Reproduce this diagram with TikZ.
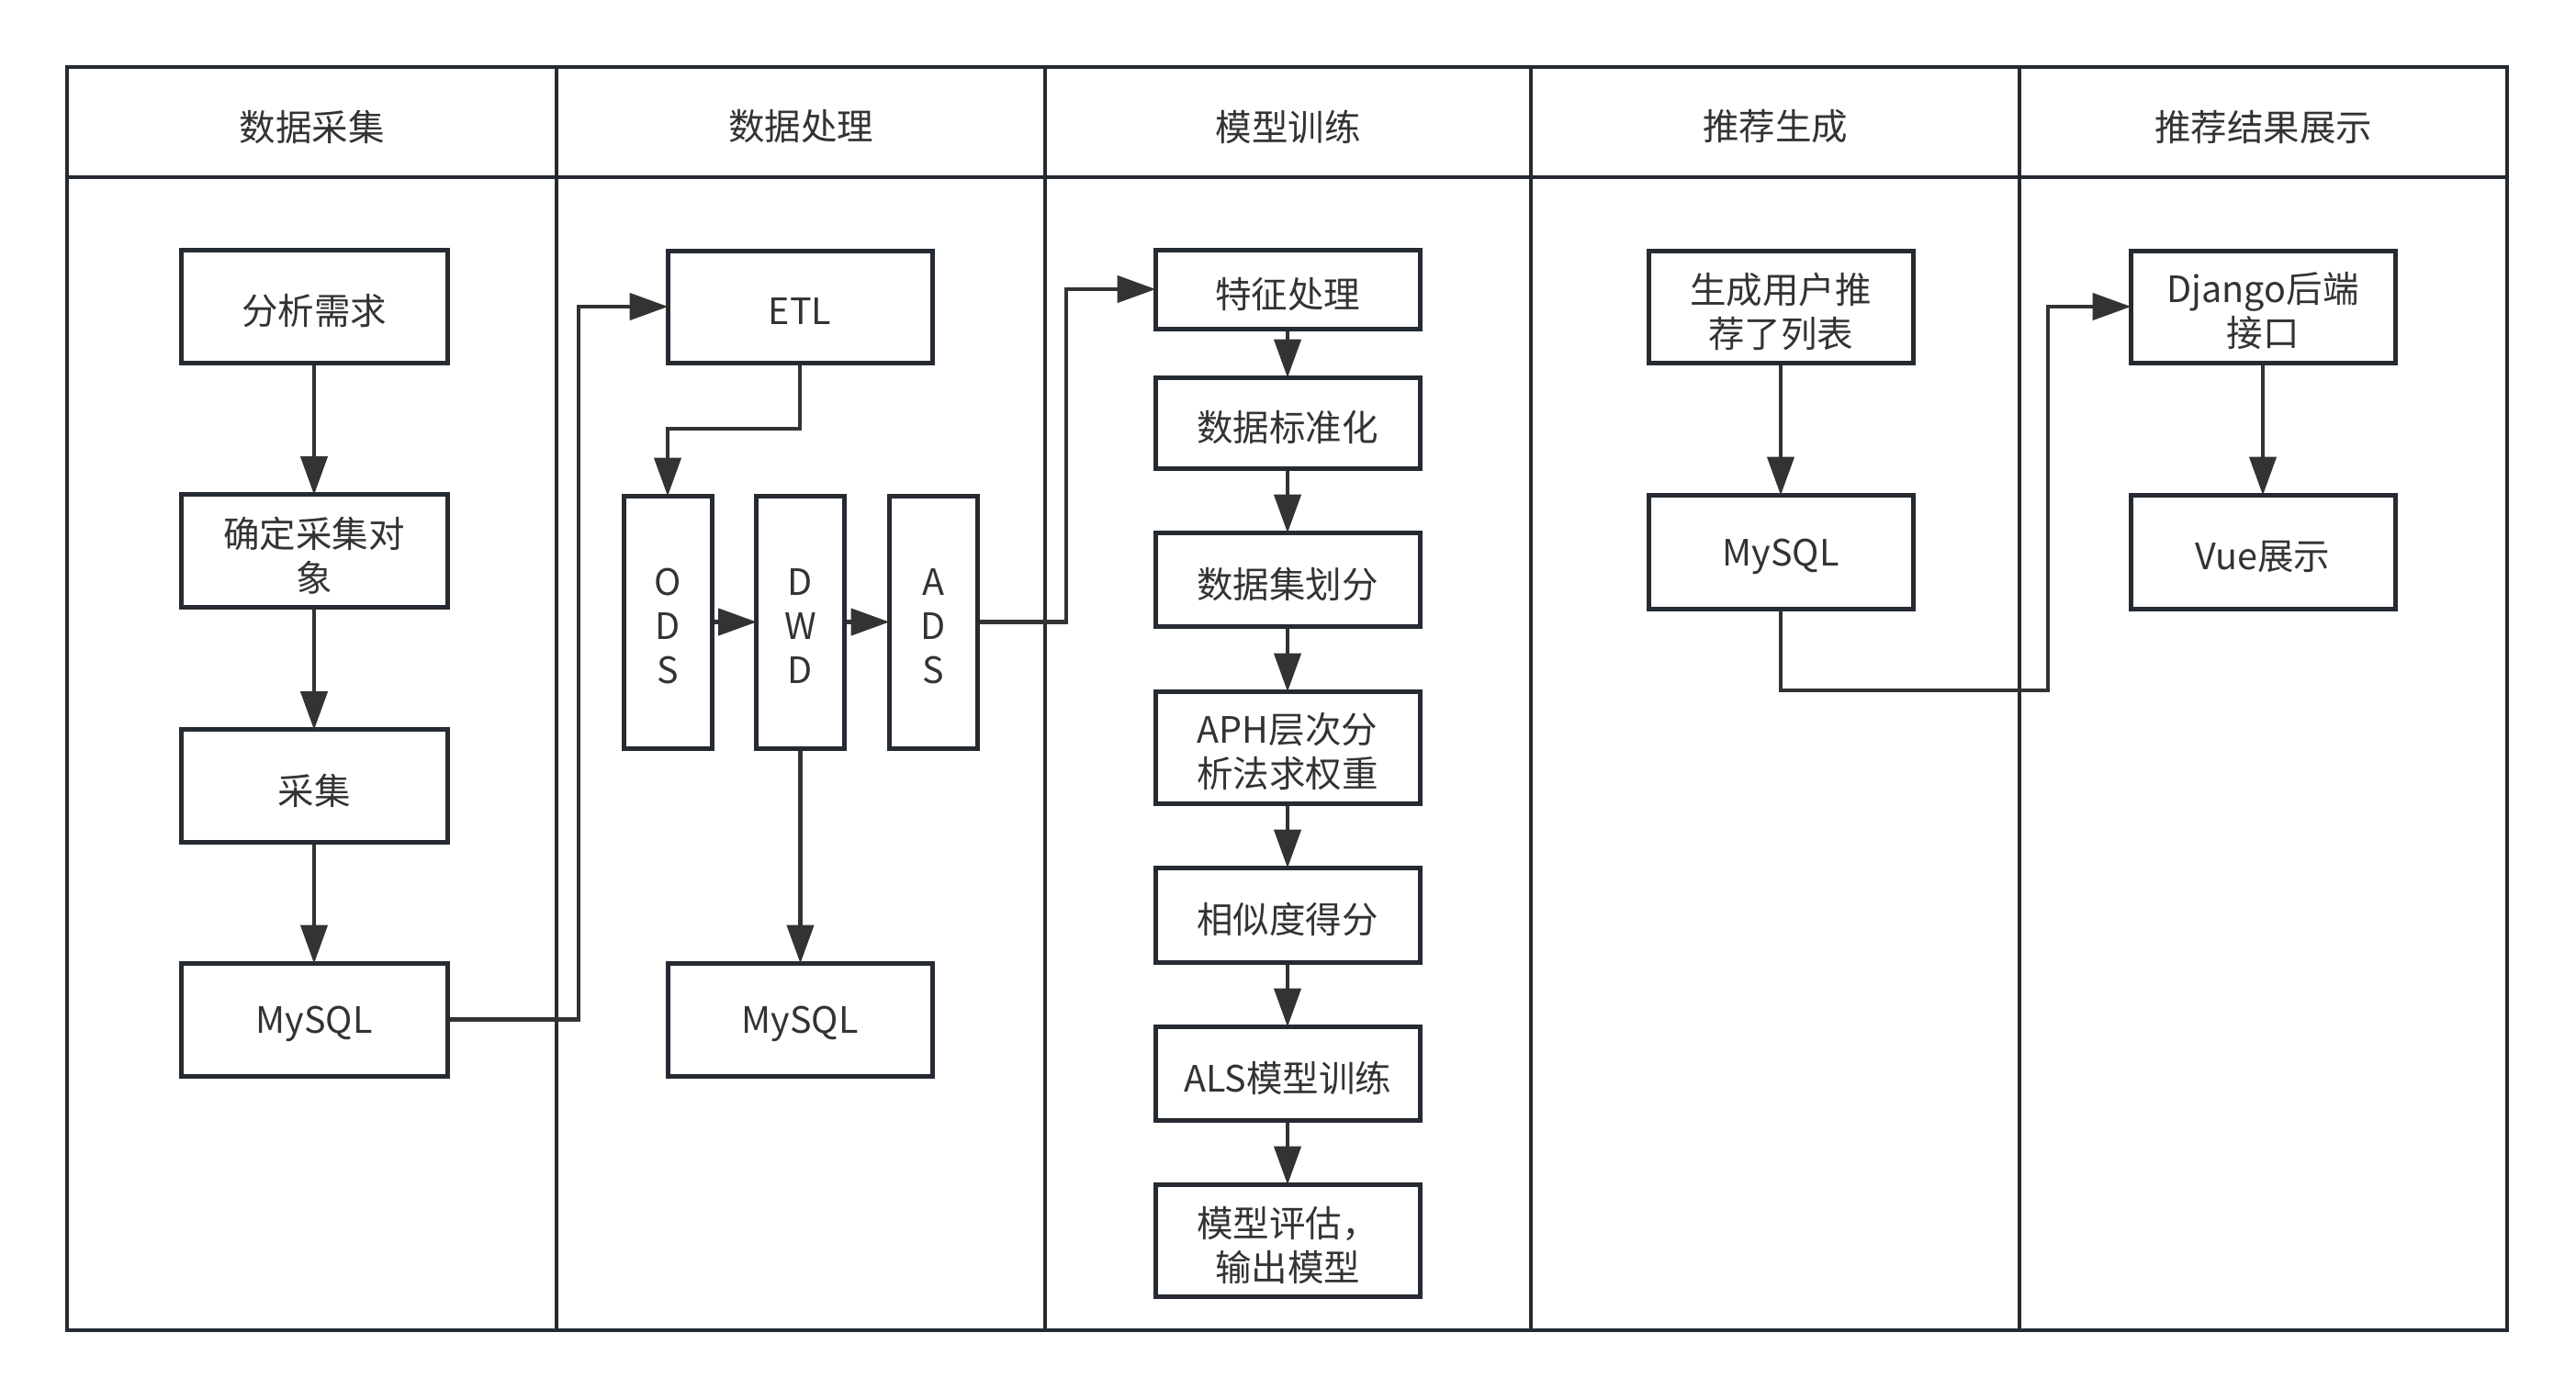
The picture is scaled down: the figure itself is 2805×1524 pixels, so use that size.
\documentclass[tikz,border=0pt]{standalone}
\usepackage{fontspec}
\setmainfont{Noto Sans CJK SC}
\usetikzlibrary{arrows.meta}
\definecolor{framec}{HTML}{252B31}
\definecolor{linec}{HTML}{333333}
\definecolor{textc}{HTML}{333333}
\tikzset{
  frame/.style={draw=framec, line width=4.5pt},
  txt/.style={inner sep=0pt, align=center, text=textc, font=\fontsize{39.5}{48}\selectfont, yshift=-5pt},
  box/.style={draw=framec, line width=5pt, fill=white, inner sep=0pt},
  tx/.style={label={[txt]center:#1}},
  hdr/.style={inner sep=0pt, text=textc, font=\fontsize{39.5}{48}\selectfont},
  arr/.style={draw=linec, line width=4.5pt, shorten >=-3pt, -{Triangle[length=42pt,width=29pt]}},
  wb/.style={box, minimum width=290pt, minimum height=123pt},
  cb/.style={box, minimum width=288pt},
  vb/.style={box, minimum width=96pt, minimum height=275pt}
}
\begin{document}
\begin{tikzpicture}[x=1pt,y=-1pt]
\useasboundingbox[fill=white] (0,0) rectangle (2805,1524);
% frame
\draw[frame] (73,73) rectangle (2730,1449);
\draw[frame] (73,193) -- (2730,193);
\foreach \xx in {606,1138,1667,2199} \draw[frame] (\xx,73) -- (\xx,1449);
% headers
\node[hdr] (h1) at (339.5,138) {数据采集};
\node[hdr] (h2) at (872,138) {数据处理};
\node[hdr] (h3) at (1402.5,138) {模型训练};
\node[hdr] (h4) at (1933,138) {推荐生成};
\node[hdr] (h5) at (2464.5,138) {推荐结果展示};
% column 1
\node[wb, tx={分析需求}] (a1) at (342,333.5) {};
\node[wb, tx={确定采集对\\象}] (a2) at (342,600) {};
\node[wb, tx={采集}] (a3) at (342,856) {};
\node[wb, tx={MySQL}] (a4) at (342,1110.5) {};
% column 2
\node[wb, minimum width=288pt, minimum height=122pt, tx={ETL}] (etl) at (871,334) {};
\node[vb, tx={O\\D\\S}] (ods) at (727,677.5) {};
\node[vb, tx={D\\W\\D}] (dwd) at (871.5,677.5) {};
\node[vb, tx={A\\D\\S}] (ads) at (1016,677.5) {};
\node[wb, minimum width=288pt, tx={MySQL}] (m2) at (871,1110.5) {};
% column 3
\node[cb, minimum height=86pt, tx={特征处理}] (b1) at (1402,315) {};
\node[cb, minimum height=99pt, tx={数据标准化}] (b2) at (1402,460.5) {};
\node[cb, minimum height=102pt, tx={数据集划分}] (b3) at (1402,631) {};
\node[cb, minimum height=122pt, tx={APH层次分\\析法求权重}] (b4) at (1402,814) {};
\node[cb, minimum height=103pt, tx={相似度得分}] (b5) at (1402,996.5) {};
\node[cb, minimum height=102pt, tx={ALS模型训练}] (b6) at (1402,1169) {};
\node[cb, minimum height=122pt, tx={模型评估，\\输出模型}] (b7) at (1402,1351) {};
% column 4
\node[cb, minimum height=122pt, tx={生成用户推\\荐了列表}] (c1) at (1939,334) {};
\node[cb, minimum height=124pt, tx={MySQL}] (c2) at (1939,601) {};
% column 5
\node[cb, minimum height=122pt, tx={Django后端\\接口}] (d1) at (2464,334) {};
\node[cb, minimum height=124pt, tx={Vue展示}] (d2) at (2464,601) {};
% junction coordinates
\coordinate (j1) at (630,0);
\coordinate (j2) at (0,467);
\coordinate (j3) at (1161,0);
\coordinate (j4) at (2230,752);
% connectors
\draw[arr] (a1) -- (a2);
\draw[arr] (a2) -- (a3);
\draw[arr] (a3) -- (a4);
\draw[arr] (a4.east) -- (a4.east -| j1) -- (j1 |- etl.west) -- (etl.west);
\draw[arr] (etl.south) -- (etl.south |- j2) -- (ods.north |- j2) -- (ods.north);
\draw[arr] (ods.east) -- (dwd.west);
\draw[arr] (dwd.east) -- (ads.west);
\draw[arr] (dwd.south) -- (dwd.south |- m2.north);
\draw[arr] (ads.east) -- (ads.east -| j3) -- (j3 |- b1.west) -- (b1.west);
\draw[arr] (b1) -- (b2);
\draw[arr] (b2) -- (b3);
\draw[arr] (b3) -- (b4);
\draw[arr] (b4) -- (b5);
\draw[arr] (b5) -- (b6);
\draw[arr] (b6) -- (b7);
\draw[arr] (c1) -- (c2);
\draw[arr] (c2.south) -- (c2.south |- j4) -- (j4) -- (j4 |- d1.west) -- (d1.west);
\draw[arr] (d1) -- (d2);
\end{tikzpicture}
\end{document}
